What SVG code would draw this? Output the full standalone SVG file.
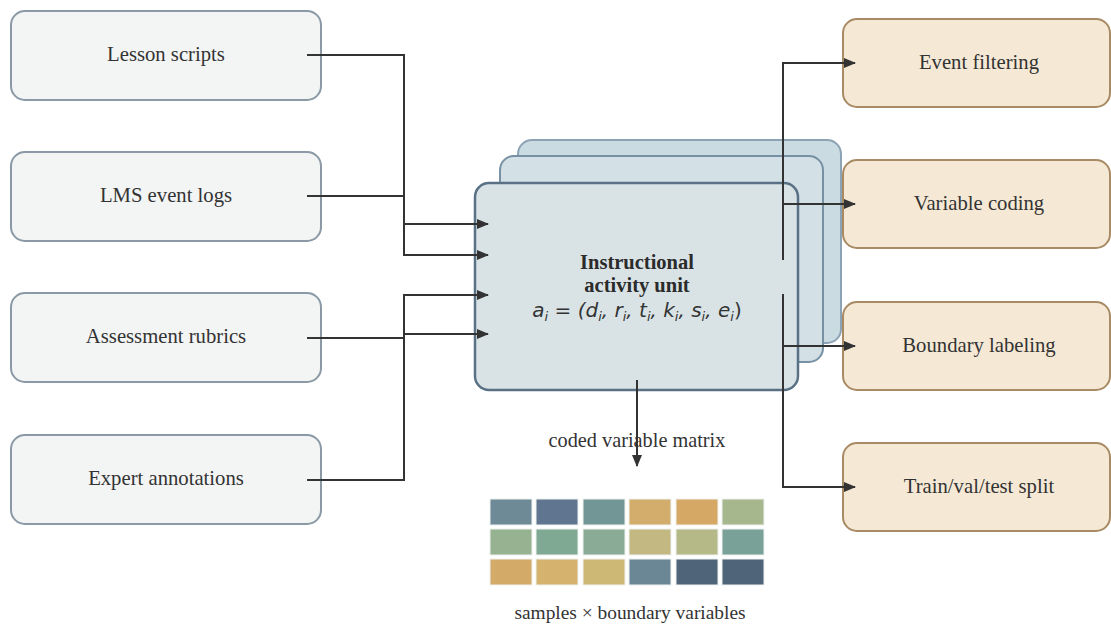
<svg xmlns="http://www.w3.org/2000/svg" width="1111" height="626" viewBox="0 0 1111 626">
  <style>
    .src rect { fill: #f3f5f4; stroke: #8a99a5; stroke-width: 2; }
    .dst rect { fill: #f5e9d6; stroke: #a88b64; stroke-width: 2; }
    .lbl { font-family: "Liberation Serif", "Times New Roman", serif; font-size: 20.7px; fill: #333; text-anchor: middle; }
    .cap { font-family: "Liberation Serif", "Times New Roman", serif; fill: #333; text-anchor: middle; }
    .title { font-family: "Liberation Serif", "Times New Roman", serif; font-size: 20.5px; font-weight: bold; fill: #2b2b2b; text-anchor: middle; }
    .math { font-family: "DejaVu Sans", sans-serif; font-style: italic; font-size: 20px; fill: #333; text-anchor: middle; }
    .wire { fill: none; stroke: #333; stroke-width: 2; }
    .cell { stroke: #eef1f0; stroke-width: 1; }
  </style>
  <defs>
    <marker id="arrow" viewBox="0 0 12 10" refX="11" refY="5" markerWidth="12" markerHeight="10" markerUnits="userSpaceOnUse" orient="auto">
      <path d="M0,0 L12,5 L0,10 z" fill="#333"/>
    </marker>
  </defs>

  <rect width="1111" height="626" fill="#ffffff"/>

  <!-- sources -->
  <g id="lesson-scripts" class="src">
    <rect x="11" y="11" width="310" height="89" rx="14"/>
    <text class="lbl" x="166" y="61">Lesson scripts</text>
  </g>
  <g id="lms-event-logs" class="src">
    <rect x="11" y="152" width="310" height="89" rx="14"/>
    <text class="lbl" x="166" y="202">LMS event logs</text>
  </g>
  <g id="assessment-rubrics" class="src">
    <rect x="11" y="293" width="310" height="89" rx="14"/>
    <text class="lbl" x="166" y="343">Assessment rubrics</text>
  </g>
  <g id="expert-annotations" class="src">
    <rect x="11" y="435" width="310" height="89" rx="14"/>
    <text class="lbl" x="166" y="485">Expert annotations</text>
  </g>

  <!-- central unit, stacked -->
  <g id="activity-unit">
    <rect x="518" y="140" width="323" height="203" rx="14" fill="#cbdbe2" stroke="#8ba3b5" stroke-width="2"/>
    <rect x="500" y="156" width="323" height="206" rx="14" fill="#d3e0e6" stroke="#7690a4" stroke-width="2"/>
    <rect x="475" y="183" width="323" height="207" rx="14" fill="#d9e3e6" stroke="#5a7185" stroke-width="2.5"/>
    <text class="title" x="637" y="269">Instructional</text>
    <text class="title" x="637" y="292">activity unit</text>
    <text class="math" x="637" y="317">a<tspan font-size="13" dy="4">i</tspan><tspan dy="-4"> = (d</tspan><tspan font-size="13" dy="4">i</tspan><tspan dy="-4">, r</tspan><tspan font-size="13" dy="4">i</tspan><tspan dy="-4">, t</tspan><tspan font-size="13" dy="4">i</tspan><tspan dy="-4">, k</tspan><tspan font-size="13" dy="4">i</tspan><tspan dy="-4">, s</tspan><tspan font-size="13" dy="4">i</tspan><tspan dy="-4">, e</tspan><tspan font-size="13" dy="4">i</tspan><tspan dy="-4" font-style="normal">)</tspan></text>
  </g>

  <!-- outputs -->
  <g id="event-filtering" class="dst">
    <rect x="843" y="19" width="267" height="88" rx="14"/>
    <text class="lbl" x="979" y="69">Event filtering</text>
  </g>
  <g id="variable-coding" class="dst">
    <rect x="843" y="160" width="267" height="88" rx="14"/>
    <text class="lbl" x="979" y="210">Variable coding</text>
  </g>
  <g id="boundary-labeling" class="dst">
    <rect x="843" y="302" width="267" height="88" rx="14"/>
    <text class="lbl" x="979" y="352">Boundary labeling</text>
  </g>
  <g id="train-val-test-split" class="dst">
    <rect x="843" y="443" width="267" height="88" rx="14"/>
    <text class="lbl" x="979" y="493">Train/val/test split</text>
  </g>

  <!-- connectors -->
  <g id="connectors" class="wire">
    <polyline points="307,55 404,55 404,255 488,255" marker-end="url(#arrow)"/>
    <polyline points="307,196 404,196 404,224 488,224" marker-end="url(#arrow)"/>
    <polyline points="307,338 404,338 404,334 488,334" marker-end="url(#arrow)"/>
    <polyline points="307,480 404,480 404,295 488,295" marker-end="url(#arrow)"/>
    <polyline points="783,260 783,63 855,63" marker-end="url(#arrow)"/>
    <polyline points="783,204 855,204" marker-end="url(#arrow)"/>
    <polyline points="783,294 783,487 855,487" marker-end="url(#arrow)"/>
    <polyline points="783,346 855,346" marker-end="url(#arrow)"/>
    <polyline points="637,380 637,466" marker-end="url(#arrow)"/>
  </g>

  <!-- coded matrix -->
  <g id="coded-matrix">
    <text class="cap" x="637" y="447" style="font-size:20.3px">coded variable matrix</text>
    <rect class="cell" x="490" y="499" width="42" height="26" fill="#6d8a96"/>
    <rect class="cell" x="536" y="499" width="42" height="26" fill="#5f7590"/>
    <rect class="cell" x="583" y="499" width="42" height="26" fill="#729695"/>
    <rect class="cell" x="629" y="499" width="42" height="26" fill="#d3ad6b"/>
    <rect class="cell" x="676" y="499" width="42" height="26" fill="#d6a865"/>
    <rect class="cell" x="722" y="499" width="42" height="26" fill="#a7b78d"/>
    <rect class="cell" x="490" y="529" width="42" height="26" fill="#97b291"/>
    <rect class="cell" x="536" y="529" width="42" height="26" fill="#80a994"/>
    <rect class="cell" x="583" y="529" width="42" height="26" fill="#8aac96"/>
    <rect class="cell" x="629" y="529" width="42" height="26" fill="#c4b882"/>
    <rect class="cell" x="676" y="529" width="42" height="26" fill="#b5b987"/>
    <rect class="cell" x="722" y="529" width="42" height="26" fill="#7aa198"/>
    <rect class="cell" x="490" y="559" width="42" height="26" fill="#d4aa68"/>
    <rect class="cell" x="536" y="559" width="42" height="26" fill="#d5b26e"/>
    <rect class="cell" x="583" y="559" width="42" height="26" fill="#cdb876"/>
    <rect class="cell" x="629" y="559" width="42" height="26" fill="#6b8795"/>
    <rect class="cell" x="676" y="559" width="42" height="26" fill="#4f6379"/>
    <rect class="cell" x="722" y="559" width="42" height="26" fill="#4f6379"/>
    <text class="cap" x="630" y="619" style="font-size:19.4px">samples × boundary variables</text>
  </g>
</svg>
